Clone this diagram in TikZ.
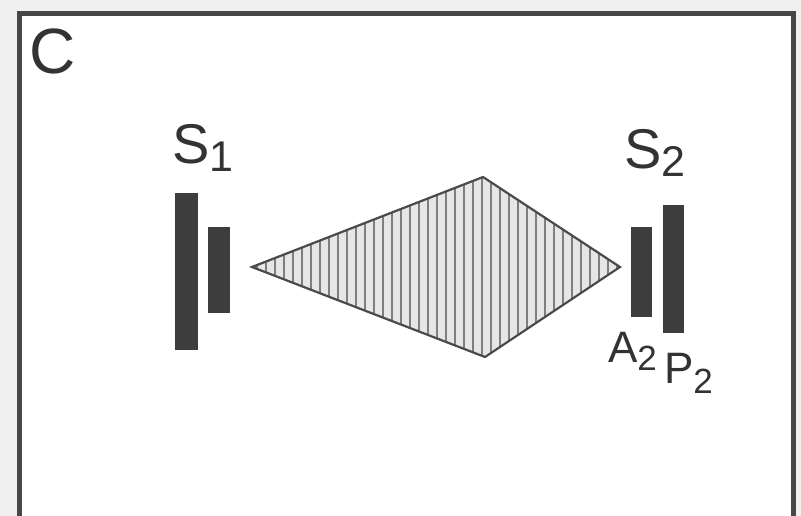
\documentclass[tikz,border=0pt]{standalone}
\usepackage{fontspec}
\setmainfont{Liberation Sans}
\definecolor{outbg}{HTML}{F0F0F0}
\definecolor{framec}{HTML}{474747}
\definecolor{barc}{HTML}{3D3D3D}
\definecolor{edgec}{HTML}{4A4A4A}
\definecolor{hatchc}{HTML}{7E7E7E}
\definecolor{fillc}{HTML}{E6E6E6}
\begin{document}
\begin{tikzpicture}[x=1pt,y=-1pt,
  bar/.style={fill=barc,draw=none,inner sep=0pt,outer sep=0pt},
  lab/.style={anchor=base west,inner sep=0pt,outer sep=0pt,text=black!80}]
\useasboundingbox (0,0) rectangle (801,516);
\fill[outbg] (0,0) rectangle (801,516);
\fill[white] (19,13.5) rectangle (793,516);
% frame
\draw[framec,line width=5pt] (19,516) -- (19,13.5) -- (793,13.5) -- (793,516);
% panel letter
\node[lab] (panel) at (29,74) {\fontsize{64}{64}\selectfont C};
% S1 mirrors
\node[bar,minimum width=23pt,minimum height=157pt] (s1tall) at (186.5,271.5) {};
\node[bar,minimum width=22pt,minimum height=86pt] (s1short) at (219,270) {};
\node[lab] (s1lab) at (172,164) {\fontsize{56}{56}\selectfont S\raisebox{-8pt}{\fontsize{43}{43}\selectfont 1}};
% S2 mirrors
\node[bar,minimum width=21pt,minimum height=90pt] (s2short) at (641.5,272) {};
\node[bar,minimum width=21pt,minimum height=128pt] (s2tall) at (673.5,269) {};
\node[lab] (s2lab) at (624,169) {\fontsize{56}{56}\selectfont S\raisebox{-8pt}{\fontsize{43}{43}\selectfont 2}};
\node[lab] (a2lab) at (608,362) {\fontsize{44}{44}\selectfont A\raisebox{-8pt}{\fontsize{35}{35}\selectfont 2}};
\node[lab] (p2lab) at (664,383) {\fontsize{44}{44}\selectfont P\raisebox{-10pt}{\fontsize{35}{35}\selectfont 2}};
% diamond
\coordinate (dl) at (252,267);
\coordinate (dt) at (483,177);
\coordinate (dr) at (620,267);
\coordinate (db) at (485,357);
\fill[fillc] (dl) -- (dt) -- (dr) -- (db) -- cycle;
\begin{scope}
\clip (dl) -- (dt) -- (dr) -- (db) -- cycle;
\foreach \xx in {257,266,...,620}
  \draw[hatchc,line width=2pt] (\xx,170) -- (\xx,365);
\end{scope}
\draw[edgec,line width=2.2pt,line join=miter] (dl) -- (dt) -- (dr) -- (db) -- cycle;
\end{tikzpicture}
\end{document}
